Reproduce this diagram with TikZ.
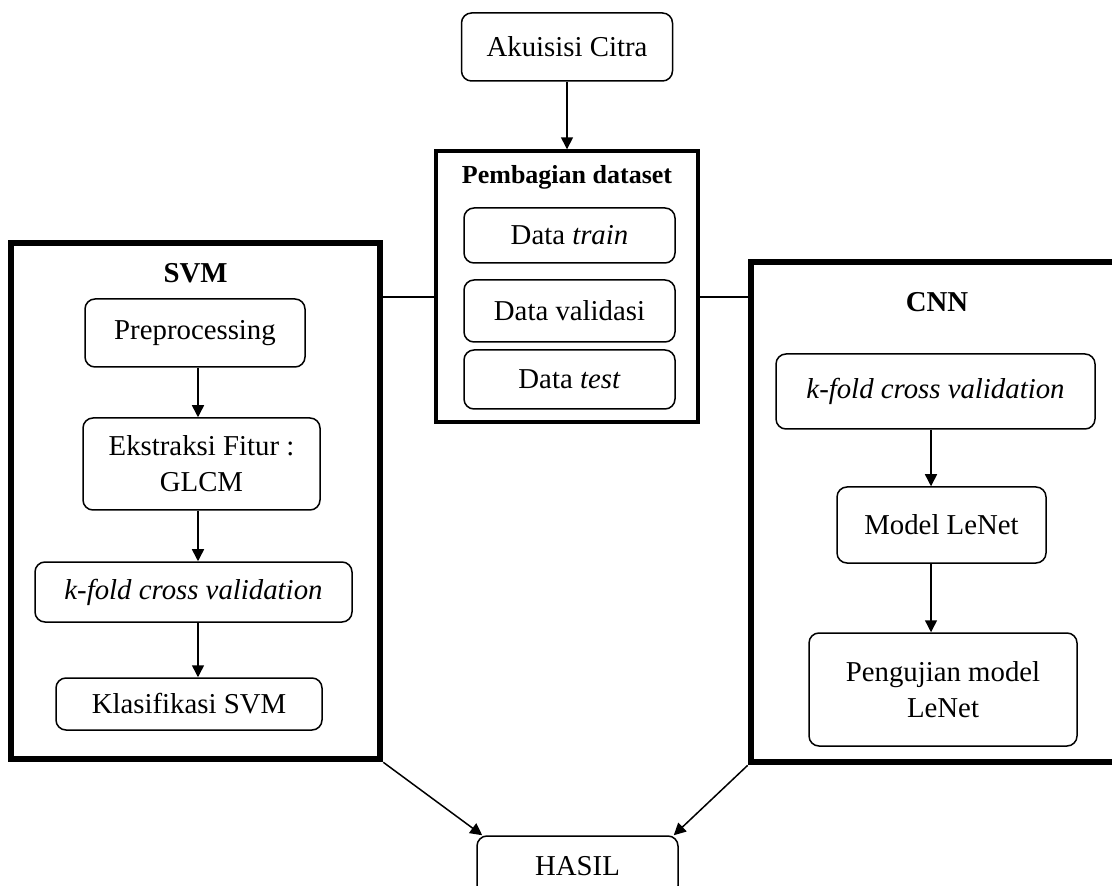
\documentclass[tikz,border=0pt]{standalone}
\usepackage{fontspec}
\setmainfont{Liberation Serif}
\usetikzlibrary{arrows.meta}
\begin{document}
\begin{tikzpicture}[x=0.5pt,y=-0.5pt,
  font=\fontsize{14.4}{18}\selectfont,
  rbox/.style={draw, rounded corners=5pt, line width=0.75pt, align=center, inner sep=0pt},
  frame/.style={draw, line width=3.3pt, inner sep=0pt},
  midframe/.style={draw, line width=1.7pt, inner sep=0pt},
  ttl/.style={font=\fontsize{14.4}{18}\selectfont\bfseries, inner sep=0pt},
  arr/.style={-{Triangle[length=6pt,width=6pt]}, line width=0.75pt},
  conn/.style={line width=0.75pt}]
\useasboundingbox (0,0) rectangle (1112,886);
% top
\node[rbox, minimum width=105.5pt, minimum height=34pt] (aku) at (567,47) {Akuisisi Citra};
\node[midframe, minimum width=131pt, minimum height=135.5pt] (pemb) at (567,286.5) {};
\node[ttl, font=\fontsize{13}{16}\selectfont\bfseries] (pembt) at (567,177) {Pembagian dataset};
\node[rbox, minimum width=105.5pt, minimum height=27.5pt] (train) at (569.5,235.5) {Data \textit{train}};
\node[rbox, minimum width=105.5pt, minimum height=31pt] (val) at (569.5,311) {Data validasi};
\node[rbox, minimum width=105.5pt, minimum height=29.5pt] (test) at (569.5,379.5) {Data \textit{test}};
% SVM
\node[frame, minimum width=184.5pt, minimum height=258pt] (svm) at (195.5,501) {};
\node[ttl] (svmt) at (195.5,273) {SVM};
\node[rbox, minimum width=110pt, minimum height=34pt] (pre) at (195,333) {Preprocessing};
\node[rbox, minimum width=118.5pt, minimum height=46pt] (eks) at (201.5,464) {Ekstraksi Fitur :\\ GLCM};
\node[rbox, minimum width=158.5pt, minimum height=30pt] (kf1) at (193.5,592) {\textit{k-fold cross validation}};
\node[rbox, minimum width=133pt, minimum height=26pt] (kls) at (189,704) {Klasifikasi SVM};
% CNN
\node[frame, minimum width=183.5pt, minimum height=250pt] (cnn) at (934.5,512) {};
\node[ttl] (cnnt) at (937,302) {CNN};
\node[rbox, minimum width=159.5pt, minimum height=37.5pt] (kf2) at (935.5,391.5) {\textit{k-fold cross validation}};
\node[rbox, minimum width=104.5pt, minimum height=38pt] (mdl) at (941.5,525) {Model LeNet};
\node[rbox, minimum width=134pt, minimum height=56.5pt] (uji) at (943,689.5) {Pengujian model\\ LeNet};
% result
\node[rbox, minimum width=100.5pt, minimum height=30pt] (hasil) at (577.5,866) {HASIL};
% helper coordinates
\coordinate (ly) at (0,297);
\coordinate (ax1) at (198,0);
\coordinate (ax2) at (931,0);
% connectors
\draw[arr] (aku.south) -- (pemb.north);
\draw[conn] (svm.east |- ly) -- (pemb.west |- ly);
\draw[conn] (pemb.east |- ly) -- (cnn.west |- ly);
\draw[arr] (pre.south -| ax1) -- (eks.north -| ax1);
\draw[arr] (eks.south -| ax1) -- (kf1.north -| ax1);
\draw[arr] (kf1.south -| ax1) -- (kls.north -| ax1);
\draw[arr] (kf2.south -| ax2) -- (mdl.north -| ax2);
\draw[arr] (mdl.south -| ax2) -- (uji.north -| ax2);
\draw[arr] (svm.south east) -- ([xshift=3pt]hasil.north west);
\draw[arr] (cnn.south west) -- ([xshift=-2.5pt]hasil.north east);
\end{tikzpicture}
\end{document}
